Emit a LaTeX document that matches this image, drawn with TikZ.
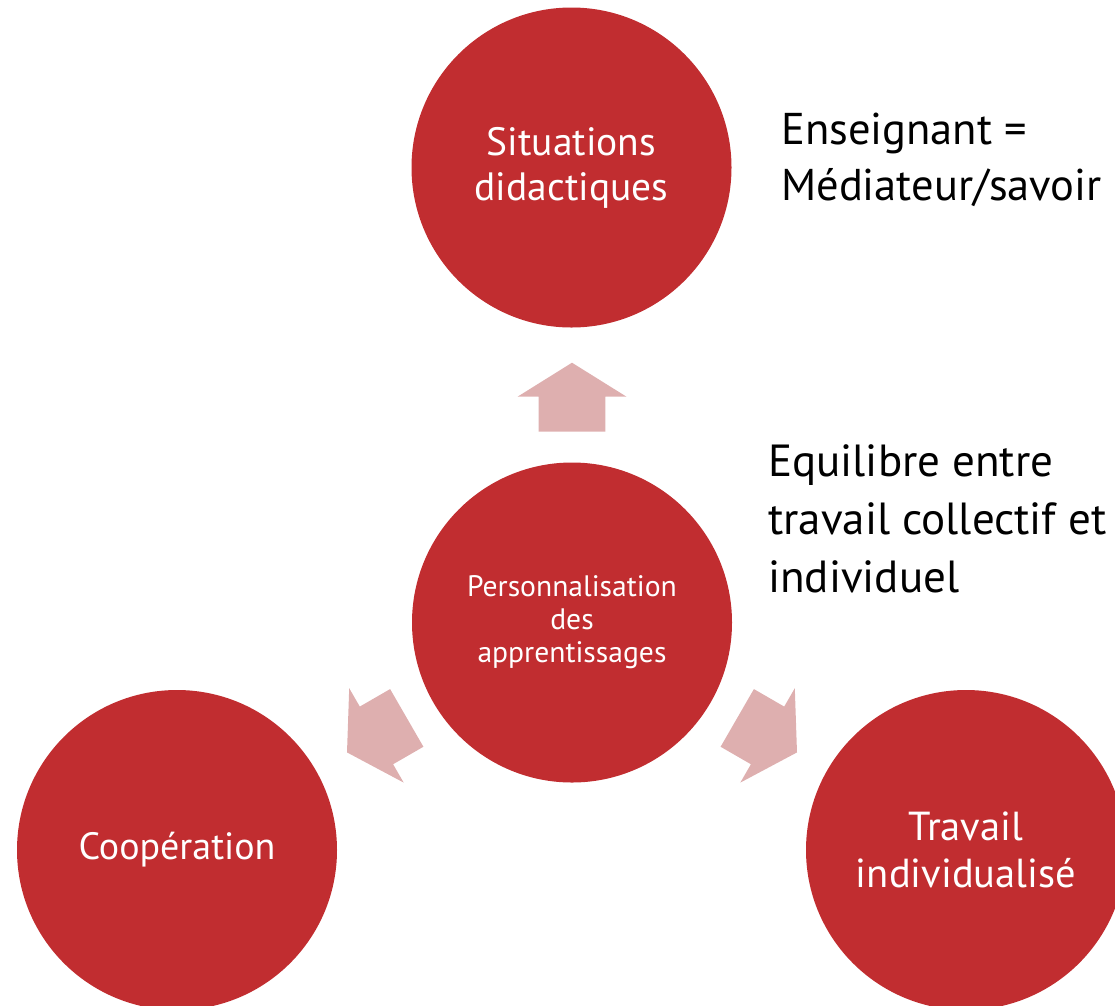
\documentclass[tikz,border=0pt]{standalone}
\usepackage{fontspec}
\setmainfont{PT Sans}
\definecolor{cred}{RGB}{193,45,48}
\definecolor{cpink}{RGB}{222,175,175}
\begin{document}
\begin{tikzpicture}[x=1pt,y=-1pt,
  bubble/.style={circle,fill=cred,draw=none,minimum size=320pt,inner sep=0pt,text=white,align=center},
  blockarrow/.style={fill=cpink,draw=none},
  sidetext/.style={anchor=base west,align=left,inner sep=0pt,text=black}]
\useasboundingbox (0,0) rectangle (1115,1005);
\node[bubble,font=\fontsize{39.5}{45}\selectfont] (top) at (571.5,167.5) {Situations\\didactiques};
\node[bubble,font=\fontsize{29.6}{33}\selectfont] (ctr) at (572,622.5) {Personnalisation\\des\\apprentissages};
\node[bubble,font=\fontsize{38}{44}\selectfont] (left) at (177,850) {Coopération};
\node[bubble,font=\fontsize{40.5}{47}\selectfont] (right) at (966,850) {Travail\\individualisé};
\foreach \ang in {0,120,-120}{
  \begin{scope}[shift={(ctr.center)},rotate=\ang]
    \fill[blockarrow] (-33.3,-190.8) -- (33.3,-190.8) -- (33.3,-225.8) -- (54.5,-225.8)
      -- (0,-259.8) -- (-54.5,-225.8) -- (-33.3,-225.8) -- cycle;
  \end{scope}
}
\node[sidetext,font=\fontsize{44.5}{56.7}\selectfont] (ens) at (781,200.7) {Enseignant =\\Médiateur/savoir};
\node[sidetext,font=\fontsize{45}{57.8}\selectfont] (equ) at (768,592.3) {Equilibre entre\\travail collectif et\\individuel};
\end{tikzpicture}
\end{document}
